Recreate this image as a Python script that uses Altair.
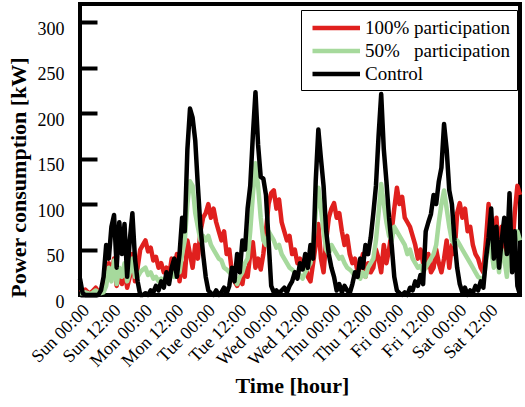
import altair as alt
import pandas as pd

# Hourly power readings over one week (hour 0 = Sunday 00:00, hour 168 = end of Saturday)
hours = list(range(169))

control = [
    18, 2, 0, 0, 0, 0, 0, 0, 5, 20, 55, 40, 75, 88, 30, 80, 45, 78, 20, 60, 90, 40, 15, 0,
    0, 2, 0, 5, 3, 10, 5, 15, 8, 25, 12, 30, 40, 20, 45, 85, 70, 160, 205, 195, 170, 120, 75, 45,
    20, 5, 2, 0, 5, 0, 3, 8, 2, 10, 30, 15, 45, 25, 60, 50, 95, 120, 175, 223, 165, 130, 128, 110,
    60, 10, 3, 5, 2, 5, 8, 3, 10, 15, 25, 18, 35, 28, 45, 30, 55, 40, 125, 182, 150, 120, 70, 45,
    30, 20, 5, 12, 3, 10, 5, 2, 12, 25, 20, 40, 30, 55, 45, 63, 90, 120, 175, 221, 160, 125, 85, 55,
    20, 5, 2, 0, 3, 0, 8, 5, 15, 10, 22, 12, 70, 80, 89, 110, 100, 125, 140, 188, 160, 115, 100, 60,
    30, 12, 3, 8, 0, 5, 2, 10, 5, 15, 8, 40, 63, 95, 40, 75, 30, 60, 85, 45, 112, 25, 70, 10, 0,
]

full_participation = [
    3, 4, 6, 3, 2, 5, 8, 4, 3, 5, 15, 35, 20, 40, 10, 25, 12, 30, 8, 20, 45, 15, 30, 50,
    55, 60, 48, 52, 38, 42, 30, 35, 25, 30, 20, 40, 28, 45, 15, 35, 20, 60, 45, 30, 55, 40, 70, 85,
    90, 100, 85, 95, 80, 70, 60, 70, 45, 50, 25, 15, 10, 18, 12, 30, 20, 45, 58, 30, 40, 28, 45, 70,
    100, 112, 115, 95, 105, 80, 70, 60, 65, 45, 50, 35, 40, 30, 35, 20, 15, 35, 55, 78, 40, 25, 60, 85,
    95, 101, 85, 90, 70, 55, 65, 45, 35, 40, 25, 30, 45, 20, 35, 25, 30, 50, 40, 25, 55, 35, 50, 70,
    95, 118, 100, 108, 85, 80, 75, 65, 55, 40, 50, 35, 30, 45, 25, 30, 50, 35, 25, 40, 60, 30, 55, 45,
    90, 101, 85, 95, 70, 75, 55, 45, 40, 30, 25, 60, 100, 70, 50, 85, 40, 75, 60, 30, 80, 50, 90, 120, 110,
]

half_participation = [
    2, 2, 3, 2, 1, 3, 5, 3, 2, 3, 10, 30, 15, 38, 12, 30, 20, 35, 15, 25, 40, 20, 20, 25,
    28, 30, 22, 25, 18, 20, 15, 18, 12, 20, 15, 25, 20, 30, 25, 45, 60, 100, 125, 120, 90, 75, 60, 65,
    60, 65, 55, 50, 45, 40, 38, 30, 28, 25, 22, 18, 12, 20, 25, 35, 40, 70, 110, 145, 120, 85, 60, 55,
    70, 65, 60, 52, 55, 45, 40, 35, 30, 28, 25, 20, 22, 18, 25, 30, 35, 55, 90, 118, 95, 70, 50, 45,
    55, 50, 45, 40, 42, 35, 30, 28, 25, 20, 22, 18, 25, 20, 30, 35, 40, 60, 90, 122, 100, 80, 65, 60,
    75, 70, 65, 60, 55, 45, 50, 40, 35, 30, 32, 25, 30, 35, 40, 45, 55, 80, 100, 115, 95, 75, 60, 55,
    60, 55, 50, 45, 40, 35, 30, 25, 20, 18, 15, 35, 60, 50, 30, 55, 25, 50, 40, 20, 60, 35, 55, 70, 60,
]

series_names = ["100% participation", "50%\u00a0\u00a0\u00a0participation", "Control"]
series_colors = ["#e0201e", "#a6d99c", "#000000"]
series_widths = [4.5, 4.5, 3.5]

tick_hours = list(range(0, 168, 12))
tick_labels = [
    "Sun 00:00", "Sun 12:00", "Mon 00:00", "Mon 12:00", "Tue 00:00", "Tue 12:00",
    "Wed 00:00", "Wed 12:00", "Thu 00:00", "Thu 12:00", "Fri 00:00", "Fri 12:00",
    "Sat 00:00", "Sat 12:00",
]
y_ticks = [0, 50, 100, 150, 200, 250, 300]

rows = []
for name, values in zip(series_names, [full_participation, half_participation, control]):
    for h, v in zip(hours, values):
        rows.append({"hour": h, "kw": v, "series": name})
df = pd.DataFrame(rows)

label_array = "[" + ",".join(f"'{t}'" for t in tick_labels) + "]"
label_expr = f"{label_array}[round(datum.value / 12)]"

SERIF = "'Liberation Serif', 'Times New Roman', serif"

# legend key: a long horizontal stroke that starts just left of the symbol centre
legend_key = "M-1,0H4"

chart = (
    alt.Chart(df)
    .mark_line(strokeJoin="round")
    .encode(
        x=alt.X(
            "hour:Q",
            scale=alt.Scale(domain=[0, 168], nice=False, zero=False),
            axis=alt.Axis(
                values=tick_hours,
                labelExpr=label_expr,
                labelAngle=-45,
                labelAlign="right",
                labelBaseline="top",
                labelPadding=6,
                labelOverlap=False,
                ticks=False,
                domain=False,
                grid=False,
                labelFont=SERIF,
                labelFontSize=18,
                labelColor="black",
                title="Time [hour]",
                titleFont=SERIF,
                titleFontSize=22,
                titleFontWeight="bold",
                titleColor="black",
                titleX=212,
                titleY=97,
                titleBaseline="alphabetic",
            ),
        ),
        y=alt.Y(
            "kw:Q",
            scale=alt.Scale(domain=[0, 320], nice=False),
            axis=alt.Axis(
                values=y_ticks,
                offset=-17,
                tickSize=17,
                tickWidth=4,
                tickColor="black",
                domain=False,
                grid=False,
                labelPadding=16,
                labelOffset=7,
                labelFont=SERIF,
                labelFontSize=18,
                labelColor="black",
                title="Power consumption [kW]",
                titleFont=SERIF,
                titleFontSize=22,
                titleFontWeight="bold",
                titleColor="black",
                titleX=-67,
                titleY=173,
            ),
        ),
        color=alt.Color(
            "series:N",
            sort=series_names,
            scale=alt.Scale(domain=series_names, range=series_colors),
            legend=alt.Legend(
                title=None,
                orient="none",
                legendX=221,
                legendY=6,
                symbolType=legend_key,
                symbolSize=361,
                symbolStrokeWidth=3,
                symbolOffset=3,
                labelFont=SERIF,
                labelFontSize=19,
                labelColor="black",
                labelOffset=31,
                rowPadding=1,
                strokeColor="black",
                fillColor="white",
                padding=6,
            ),
        ),
        strokeWidth=alt.StrokeWidth(
            "series:N",
            scale=alt.Scale(domain=series_names, range=series_widths),
            legend=None,
        ),
    )
    .properties(
        width=440,
        height=291,
        autosize=alt.AutoSizeParams(type="none"),
        padding={"left": 80, "top": 4, "right": 5, "bottom": 112},
    )
    .configure(background="white", font=SERIF)
    .configure_view(stroke="black", strokeWidth=4)
)

chart.save("out.html", embed_options={"renderer": "svg", "actions": False})
